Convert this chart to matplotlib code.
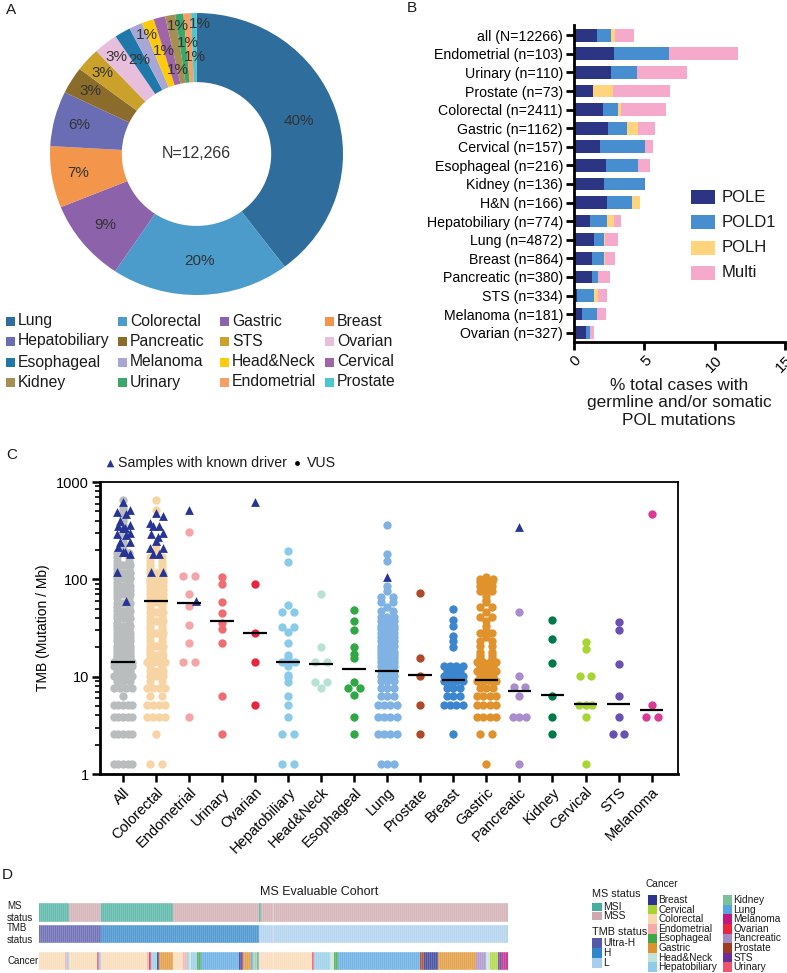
import numpy as np
import matplotlib
matplotlib.use('Agg')
import matplotlib.pyplot as plt
from matplotlib.patches import Rectangle

plt.rcParams['font.family'] = ['Liberation Sans', 'DejaVu Sans']
TXT = '#1a1a1a'
plt.rcParams['text.color'] = TXT

W, H = 787, 973

# ---------------- panel A : donut ----------------
donut_labels = ['Lung', 'Colorectal', 'Gastric', 'Breast', 'Hepatobiliary', 'Pancreatic', 'STS', 'Ovarian',
                'Esophageal', 'Melanoma', 'Head&Neck', 'Cervical', 'Kidney', 'Urinary', 'Endometrial', 'Prostate']
donut_counts = [4872, 2411, 1162, 864, 774, 380, 334, 327, 216, 181, 166, 157, 136, 110, 103, 73]
donut_colors = ['#2e6d9c', '#4b9bcb', '#8c62aa', '#f3964b', '#6a6db4', '#8b6c2b', '#c9a12b', '#e7bedb',
                '#1f78a9', '#a8a6d5', '#fecb0a', '#a065a8', '#a78e52', '#3aa86a', '#f6a064', '#4dc7cf']
# radius of each percent label (label placement only)
label_r = [0.735, 0.76, 0.80, 0.82, 0.83, 0.85, 0.86, 0.88, 0.77, 0.91, 0.76, 0.61, 0.92, 0.79, 0.69, 0.92]

# ---------------- panel B : POL mutations ----------------
pol_cats = ['all (N=12266)', 'Endometrial (n=103)', 'Urinary (n=110)', 'Prostate (n=73)', 'Colorectal (n=2411)',
            'Gastric (n=1162)', 'Cervical (n=157)', 'Esophageal (n=216)', 'Kidney (n=136)', 'H&N (n=166)',
            'Hepatobiliary (n=774)', 'Lung (n=4872)', 'Breast (n=864)', 'Pancreatic (n=380)', 'STS (n=334)',
            'Melanoma (n=181)', 'Ovarian (n=327)']
pole = [1.66, 2.84, 2.65, 1.35, 2.04, 2.44, 1.82, 2.25, 2.16, 2.35, 1.14, 1.45, 1.26, 1.26, 0.21, 0.55, 0.83]
pold1 = [0.99, 3.91, 1.80, 0.0, 1.09, 1.30, 3.20, 2.28, 2.89, 1.77, 1.21, 0.66, 0.85, 0.47, 1.24, 1.11, 0.33]
polh = [0.29, 0.0, 0.0, 1.40, 0.19, 0.79, 0.0, 0.0, 0.0, 0.60, 0.47, 0.12, 0.09, 0.0, 0.28, 0.0, 0.0]
multi = [1.30, 4.88, 3.61, 4.07, 3.20, 1.20, 0.60, 0.90, 0.0, 0.0, 0.54, 0.92, 0.74, 0.81, 0.62, 0.59, 0.29]
pol_names = ['POLE', 'POLD1', 'POLH', 'Multi']
pol_colors = ['#2b3584', '#478ed0', '#ffd47c', '#f5aacb']

# ---------------- panel C : TMB ----------------
tmb_cats = ['All', 'Colorectal', 'Endometrial', 'Urinary', 'Ovarian', 'Hepatobiliary', 'Head&Neck', 'Esophageal',
            'Lung', 'Prostate', 'Breast', 'Gastric', 'Pancreatic', 'Kidney', 'Cervical', 'STS', 'Melanoma']
tmb_colors = ['#b9bdbd', '#f7d4a3', '#f5a5a6', '#ef6d70', '#e8253d', '#8acbe9', '#b9e2d6', '#2fa845',
              '#80b3e3', '#b0482a', '#3c85cf', '#e0932c', '#a98ccd', '#007a4a', '#a7d531', '#6b50b3', '#da3b97']

tmb_all = ([1.28] * 5 + [2.56] * 5 + [3.84] * 5 + [5.12] * 5 + [6.4] + [7.68] * 4 + [8.96] * 3 + [10.2] * 4
           + [11.5] * 3 + [12.8] * 4 + [14.1] * 4 + [15.4] * 3 + [16.6] * 3 + [17.9] * 3 + [19.2] * 3 + [20.5] * 3
           + [23.0] * 3 + [25.6] * 3 + [28.2] * 3 + [30.7] * 2 + [33.3] * 3 + [35.8] * 2 + [39.7] * 3 + [43.5] * 2
           + [47.4] * 3 + [52.5] * 2 + [57.6] * 3 + [64.0] * 2 + [70.4] * 3 + [78.0] * 3 + [85.0] * 3 + [93.0] * 2
           + [102] * 3 + [115] * 3 + [128] * 2 + [140] * 3 + [155] * 2 + [170] * 2 + [185] * 2
           + [200, 220, 240, 265, 300, 330, 360, 400, 430, 470, 520, 560, 650])
tmb_colorectal = ([1.28] * 2 + [2.56] + [3.84] * 4 + [5.12] * 4 + [6.4] * 2 + [7.68] * 4 + [8.96] * 2 + [10.2] * 3
                  + [11.5] * 3 + [12.8] * 2 + [14.1] * 4 + [15.4] * 2 + [16.6] * 3 + [17.9] * 2 + [19.2] * 2
                  + [20.5] * 3 + [23.0] * 2 + [25.6] * 2 + [28.2] * 3 + [30.7] * 2 + [33.3] * 2 + [37.0] * 3
                  + [41.0] * 2 + [46.0] * 3 + [52.0] * 2 + [58.0] * 3 + [64.0] * 3 + [70.0] * 3 + [78.0] * 3
                  + [85.0] * 3 + [93.0] * 3 + [100] * 3 + [115] * 3 + [128] * 2 + [140] * 2 + [155] * 2 + [170] * 2
                  + [185, 200, 225, 520, 650])
tmb_endometrial = [3.84, 14.1, 14.1, 22.0, 34.0, 53.0, 70.0, 108, 108, 305]
tmb_urinary = [2.56, 6.3, 22.0, 31.0, 36.0, 45.0, 58.0, 89.0, 106]
tmb_ovarian = [5.12, 14.1, 28.0, 89.0]
tmb_hepatobiliary = [1.28, 1.28, 2.56, 2.56, 3.84, 5.12, 6.4, 8.8, 10.0, 10.5, 12.8, 14.1, 14.1, 14.1, 15.4, 16.6,
                     22.0, 29.0, 32.0, 32.0, 46.0, 46.0, 55.0, 150, 195]
tmb_headneck = [7.6, 8.8, 8.8, 14.1, 14.1, 20.0, 71.0]
tmb_esophageal = [2.56, 3.84, 6.5, 7.68, 7.68, 8.8, 15.7, 17.0, 20.0, 30.0, 37.0, 48.0]
tmb_lung = ([1.28] * 3 + [2.56] * 4 + [3.84] * 4 + [5.12] * 4 + [6.4] * 3 + [7.68] * 3 + [8.96] * 3 + [10.2] * 3
            + [11.5] * 3 + [12.8] * 3 + [14.1] * 3 + [15.4] * 3 + [16.6] * 3 + [17.9] * 3 + [19.2] * 2 + [20.5] * 3
            + [23.0] * 3 + [25.6] * 3 + [28.2] * 3 + [30.7] * 3 + [33.3] * 3 + [37.0] * 3 + [41.0] * 3 + [47.0] * 2
            + [52.0] + [58.0] * 2 + [66.0] * 2 + [76.0] + [85.0] + [155, 180, 365])
tmb_prostate = [2.56, 5.12, 10.2, 15.5, 72.0]
tmb_breast = ([2.56] + [5.12] * 4 + [6.4] * 3 + [7.68] * 3 + [8.96] * 4 + [10.2] * 4 + [11.5] * 3 + [12.8] * 4
              + [20.0, 23.0, 26.0, 33.0, 38.0, 49.5])
tmb_gastric = ([1.28] + [2.56] * 2 + [3.84] * 4 + [5.12] * 4 + [6.4] * 4 + [7.68] * 3 + [8.96] * 4 + [10.2] * 3
               + [11.5] * 4 + [12.8] * 3 + [14.1] * 4 + [15.4] * 2 + [16.6] * 2 + [17.9] * 2 + [20.5] * 2 + [23.0] * 2
               + [25.6, 28.0, 28.0, 30.0, 33.0, 37.0, 41.0, 41.0, 46.0, 52.0, 52.0, 58.0, 62.0, 68.0, 75.0, 75.0,
                  80.0, 85.0, 85.0, 90.0, 95.0, 95.0, 100, 100, 100, 105])
tmb_pancreatic = [1.28, 3.84, 3.84, 3.84, 6.3, 7.8, 7.8, 10.2, 46.0]
tmb_kidney = [2.56, 3.84, 6.3, 13.8, 24.5, 38.0]
tmb_cervical = [1.28, 3.84, 5.12, 5.12, 5.12, 10.2, 10.2, 19.3, 22.6]
tmb_sts = [2.56, 2.56, 3.84, 6.3, 13.5, 30.0, 36.5]
tmb_melanoma = [3.84, 3.84, 5.12, 470]
tmb_values = [tmb_all, tmb_colorectal, tmb_endometrial, tmb_urinary, tmb_ovarian, tmb_hepatobiliary, tmb_headneck,
              tmb_esophageal, tmb_lung, tmb_prostate, tmb_breast, tmb_gastric, tmb_pancreatic, tmb_kidney,
              tmb_cervical, tmb_sts, tmb_melanoma]
tmb_median = [14.0, 60.0, 57.0, 37.0, 28.0, 14.0, 13.5, 12.0, 11.5, 10.5, 9.2, 9.2, 7.1, 6.5, 5.2, 5.2, 4.5]

# samples with known driver (triangles)
drv_cat = [0] * 20 + [1] * 15 + [2, 2, 4, 8, 12]
drv_val = [620, 517, 490, 470, 400, 360, 350, 340, 335, 300, 290, 285, 240, 240, 215, 190, 190, 180, 120, 60,
           480, 450, 380, 350, 350, 300, 290, 270, 250, 210, 210, 180, 180, 120, 120,
           517, 60, 620, 106, 345]

# ---------------- panel D : MS evaluable cohort ----------------
ms_seg_names = ['MSI', 'MSS', 'MSI', 'MSS', 'MSI', 'MSS']
ms_seg_counts = [15, 16, 36, 43, 1, 124]
tmbst_seg_names = ['Ultra-H', 'H', 'L']
tmbst_seg_counts = [31, 79, 125]
cancer_seg_names = ['Colorectal', 'Endometrial', 'Hepatobiliary', 'Colorectal', 'Urinary', 'Hepatobiliary',
                    'Colorectal', 'Endometrial', 'Ovarian', 'Hepatobiliary', 'Breast', 'Gastric',
                    'Colorectal', 'Endometrial', 'Hepatobiliary', 'Head&Neck', 'Hepatobiliary', 'Esophageal', 'Lung',
                    'Breast', 'STS', 'Gastric', 'Lung', 'Hepatobiliary', 'Cervical', 'Lung',
                    'Colorectal', 'Urinary', 'Hepatobiliary', 'Head&Neck', 'Esophageal', 'Lung', 'Prostate',
                    'Breast', 'Gastric', 'Pancreatic', 'Head&Neck', 'Cervical', 'STS', 'Melanoma']
cancer_seg_counts = [13, 1, 1, 14, 1, 1,
                     23, 1, 1, 3, 1, 7,
                     5, 2, 1, 1, 3, 2, 19, 1, 1, 4, 1, 1, 1, 1,
                     27, 1, 8, 2, 2, 41, 2, 7, 19, 5, 2, 4, 2, 3]
ms_names = ['MSI', 'MSS']
ms_colors = ['#45ae9e', '#cfa7ae']
tmbst_names = ['Ultra-H', 'H', 'L']
tmbst_colors = ['#5658a8', '#2f86c8', '#a9cdec']
d_cancer_names = ['Breast', 'Cervical', 'Colorectal', 'Endometrial', 'Esophageal', 'Gastric', 'Head&Neck',
                  'Hepatobiliary', 'Kidney', 'Lung', 'Melanoma', 'Ovarian', 'Pancreatic', 'Prostate', 'STS', 'Urinary']
d_cancer_colors = ['#2b3591', '#a8d332', '#f9d8b0', '#f5aaa8', '#3ba84a', '#df912b', '#bfe3d8', '#8fcbe8',
                   '#7cbf98', '#55a5e0', '#c2187e', '#e9263e', '#a58ac8', '#a03b22', '#6a2e9a', '#ee5470']


def box(x0, y0, x1, y1):
    return [x0 / W, 1 - y1 / H, (x1 - x0) / W, (y1 - y0) / H]


fig = plt.figure(figsize=(W / 100, H / 100), dpi=100)
ov = fig.add_axes([0, 0, 1, 1], zorder=10)
ov.set_xlim(0, W)
ov.set_ylim(H, 0)
ov.axis('off')

for lab, x, y in [('A', 6, 10), ('B', 407, 8), ('C', 6, 455), ('D', 2, 875)]:
    ov.text(x, y, lab, fontsize=11, ha='left', va='center')

# ---- A
axA = fig.add_axes(box(50, 13, 343, 295))
wedges, _ = axA.pie(donut_counts, colors=donut_colors, startangle=90, counterclock=False,
                    wedgeprops=dict(width=0.49, linewidth=0))
axA.set_aspect('auto')
axA.set_xlim(-1, 1)
axA.set_ylim(-1, 1)
total = sum(donut_counts)
for w, c, r in zip(wedges, donut_counts, label_r):
    ang = (w.theta1 + w.theta2) / 2
    if c / total < 0.015:
        ang -= 2.5
    ang = np.deg2rad(ang)
    axA.text(r * np.cos(ang), r * np.sin(ang), f'{round(100 * c / total)}%', ha='center', va='center',
             fontsize=11, color='#333333')
axA.text(0, 0, 'N=12,266', ha='center', va='center', fontsize=11.5, color='#333333')

legA_x = [6, 118, 220, 325]
legA_y = [321, 341, 362, 382]
for k, (lab, col) in enumerate(zip(donut_labels, donut_colors)):
    r, c = divmod(k, 4)
    ov.add_patch(Rectangle((legA_x[c], legA_y[r] - 4.5), 9, 9, color=col, lw=0))
    ov.text(legA_x[c] + 12, legA_y[r], lab, fontsize=11.3, va='center', ha='left')

# ---- B
axB = fig.add_axes(box(574, 25, 785, 342))
ypos = np.arange(len(pol_cats))
left = np.zeros(len(pol_cats))
for vals, col in zip([pole, pold1, polh, multi], pol_colors):
    axB.barh(ypos, vals, left=left, height=0.68, color=col, lw=0)
    left = left + np.array(vals)
axB.set_ylim(16.5, -0.55)
axB.set_xlim(0, 15)
axB.set_yticks(ypos)
axB.set_yticklabels(pol_cats, fontsize=10.2)
axB.set_xticks([0, 5, 10, 15])
axB.set_xticklabels(['0', '5', '10', '15'], fontsize=11, rotation=45, ha='right', rotation_mode='anchor')
axB.tick_params(axis='both', length=6, width=2, pad=2, color='black')
for s in ['top', 'right']:
    axB.spines[s].set_visible(False)
for s in ['left', 'bottom']:
    axB.spines[s].set_linewidth(2)
ov.text(679, 403, '% total cases with\ngermline and/or somatic\nPOL mutations', fontsize=12.4, ha='center',
        va='center', linespacing=1.2)
for k, (n, col) in enumerate(zip(pol_names, pol_colors)):
    y = 197 + 25.3 * k
    ov.add_patch(Rectangle((691, y - 7), 24, 14, color=col, lw=0))
    ov.text(722, y, n, fontsize=12, va='center', ha='left')

# ---- C
axC = fig.add_axes(box(100, 482, 678, 774))
axC.set_yscale('log')


def row_offsets(n):
    if n == 1:
        return [0.0]
    if n == 2:
        return [-0.18, 0.18]
    s = min(0.2, 0.56 / (n - 1))
    return [(i - (n - 1) / 2) * s for i in range(n)]


for i, (vals, col) in enumerate(zip(tmb_values, tmb_colors)):
    u, cnt = np.unique(vals, return_counts=True)
    xs, ys = [], []
    for v, n in zip(u, cnt):
        for off in row_offsets(n):
            xs.append(i + off)
            ys.append(v)
    axC.scatter(xs, ys, s=36, color=col, lw=0, zorder=2)
    axC.hlines(tmb_median[i], i - 0.36, i + 0.36, color='black', lw=1.6, zorder=4)

tri_off = [0.0, 0.2, -0.2, 0.1, -0.1, 0.22, -0.15, 0.05]
tx = []
seen = {}
for c in drv_cat:
    k = seen.get(c, 0)
    seen[c] = k + 1
    tx.append(c + tri_off[k % len(tri_off)])
axC.scatter(tx, drv_val, marker='^', s=40, color='#253495', lw=0, zorder=3)

axC.set_ylim(1, 1000)
axC.set_xlim(-0.7, 16.8)
axC.set_yticks([1, 10, 100, 1000])
axC.set_yticklabels(['1', '10', '100', '1000'], fontsize=10.5)
axC.set_xticks(range(len(tmb_cats)))
axC.set_xticklabels(tmb_cats, fontsize=10.5, rotation=45, ha='right', rotation_mode='anchor')
axC.tick_params(axis='both', which='major', length=6, width=1.8, pad=2)
axC.tick_params(axis='y', which='minor', length=3.5, width=1.2)
axC.set_ylabel('TMB (Mutation / Mb)', fontsize=10)
for s in ['left', 'bottom']:
    axC.spines[s].set_linewidth(2)
for s in ['top', 'right']:
    axC.spines[s].set_linewidth(1.3)

ov.scatter([110], [463], marker='^', s=30, color='#253495', lw=0)
ov.text(118, 463, 'Samples with known driver', fontsize=10.2, va='center', ha='left')
ov.scatter([297], [463], marker='o', s=12, color='black', lw=0)
ov.text(307, 463, 'VUS', fontsize=10.2, va='center', ha='left')

# ---- D
axD = fig.add_axes(box(39, 903, 508, 970))
N = sum(ms_seg_counts)
ms_map = dict(zip(ms_names, ms_colors))
tmb_map = dict(zip(tmbst_names, tmbst_colors))
can_map = dict(zip(d_cancer_names, d_cancer_colors))
rows = [(ms_seg_names, ms_seg_counts, ms_map, 903, 19),
        (tmbst_seg_names, tmbst_seg_counts, tmb_map, 925, 18),
        (cancer_seg_names, cancer_seg_counts, can_map, 952, 18)]
for names, counts, cmap, top, hgt in rows:
    cols = []
    for n, c in zip(names, counts):
        cols += [cmap[n]] * c
    axD.bar(np.arange(N) + 0.5, hgt, bottom=top, width=1.0, color=cols, edgecolor='white', linewidth=0.25)
axD.set_xlim(0, N)
axD.set_ylim(970, 903)
axD.axis('off')

ov.text(7, 912, 'MS\nstatus', fontsize=7, va='center', ha='left', linespacing=1.3)
ov.text(7, 934, 'TMB\nstatus', fontsize=7, va='center', ha='left', linespacing=1.3)
ov.text(7, 961, 'Cancer', fontsize=7, va='center', ha='left')
ov.text(319, 892, 'MS Evaluable Cohort', fontsize=9, va='center', ha='center')

ov.text(592, 894, 'MS status', fontsize=7.8, va='center', ha='left')
for k, (n, col) in enumerate(zip(ms_names, ms_colors)):
    y = 907 + 9 * k
    ov.add_patch(Rectangle((592, y - 4.3), 10, 8.6, color=col, lw=0))
    ov.text(603.5, y, n, fontsize=7.5, va='center', ha='left')
ov.text(592, 932, 'TMB status', fontsize=7.8, va='center', ha='left')
for k, (n, col) in enumerate(zip(tmbst_names, tmbst_colors)):
    y = 943 + 10 * k
    ov.add_patch(Rectangle((592, y - 4.8), 10, 9.6, color=col, lw=0))
    ov.text(603.5, y, n, fontsize=7.3, va='center', ha='left')
ov.text(662, 884, 'Cancer', fontsize=7.3, va='center', ha='center')
for k, (n, col) in enumerate(zip(d_cancer_names, d_cancer_colors)):
    c, r = divmod(k, 8)
    x = [648, 723][c]
    y = 900 + 9.6 * r
    ov.add_patch(Rectangle((x, y - 4.8), 9, 9.6, color=col, lw=0))
    ov.text(x + 10.5, y, n, fontsize=7.3, va='center', ha='left')

fig.savefig('out.png', dpi=100)
